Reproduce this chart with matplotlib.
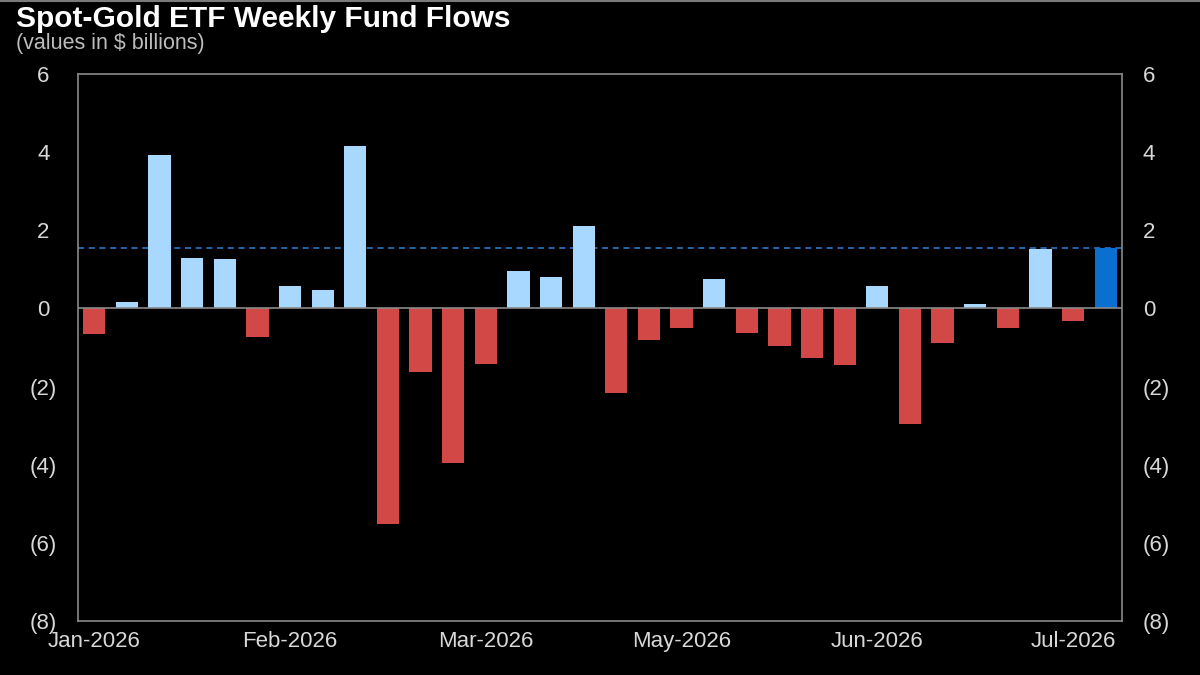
import numpy as np
import matplotlib
matplotlib.use('Agg')
import matplotlib.pyplot as plt
from matplotlib.ticker import FixedLocator, FuncFormatter

# weekly flows, $ billions
flows = [-0.65, 0.16, 3.92, 1.30, 1.27, -0.72, 0.58, 0.47, 4.15, -5.51,
         -1.62, -3.96, -1.41, 0.96, 0.81, 2.10, -2.17, -0.82, -0.51, 0.76,
         -0.62, -0.96, -1.27, -1.46, 0.57, -2.96, -0.89, 0.12, -0.51, 1.53,
         -0.33, 1.55]
latest_level = 1.55
month_labels = ["Jan-2026", "Feb-2026", "Mar-2026", "May-2026", "Jun-2026", "Jul-2026"]
month_pos = [0, 6, 12, 18, 24, 30]
y_ticks = list(range(-8, 7, 2))

plt.rcParams['font.family'] = ['Liberation Sans', 'DejaVu Sans']

fig = plt.figure(figsize=(12, 6.75), dpi=100, facecolor='black')
ax = fig.add_axes([0.065, 0.08, 0.87, 0.8104])
ax.set_facecolor('black')

x = np.arange(len(flows))
colors = ['#a8d8ff' if v >= 0 else '#d24846' for v in flows]
colors[-1] = '#0b6fd0'
ax.bar(x, flows, width=0.68, color=colors, zorder=3)

ax.axhline(0, color='#8a8a8a', lw=1.2, zorder=4)
ax.axhline(latest_level, color='#2f80d6', lw=1.1, ls=(0, (4, 3)), zorder=2)

ax.set_xlim(-0.5, len(flows) - 0.5)
ax.set_ylim(-8, 6)

for s in ax.spines.values():
    s.set_color('#8a8a8a')
    s.set_linewidth(1.2)

def fmt(v, pos):
    v = int(round(v))
    return f"({abs(v)})" if v < 0 else f"{v}"

ax.yaxis.set_major_locator(FixedLocator(y_ticks))
ax.yaxis.set_major_formatter(FuncFormatter(fmt))
ax.tick_params(axis='y', length=0, labelsize=16, colors='#d8d8d8', pad=25)
for lab in ax.get_yticklabels():
    lab.set_horizontalalignment('center')

# right side labels
ax2 = ax.twinx()
ax2.set_ylim(ax.get_ylim())
ax2.yaxis.set_major_locator(FixedLocator(y_ticks))
ax2.yaxis.set_major_formatter(FuncFormatter(fmt))
ax2.tick_params(axis='y', length=0, labelsize=16, colors='#d8d8d8', pad=15)
for s in ax2.spines.values():
    s.set_visible(False)

ax.set_xticks(month_pos)
ax.set_xticklabels(month_labels)
ax.tick_params(axis='x', length=0, labelsize=16, colors='#d8d8d8', pad=7)

fig.text(0.013, 0.972, "Spot-Gold ETF Weekly Fund Flows", color='white',
         fontsize=21.5, fontweight='bold', ha='left', va='center')
fig.text(0.013, 0.935, "(values in $ billions)", color='#bdbdbd',
         fontsize=15.5, ha='left', va='center')

fig.add_artist(plt.Line2D([0, 1], [0.999, 0.999], color='#7a7a7a', lw=1.5,
                          transform=fig.transFigure))

fig.savefig('out.png', dpi=100, facecolor='black')
